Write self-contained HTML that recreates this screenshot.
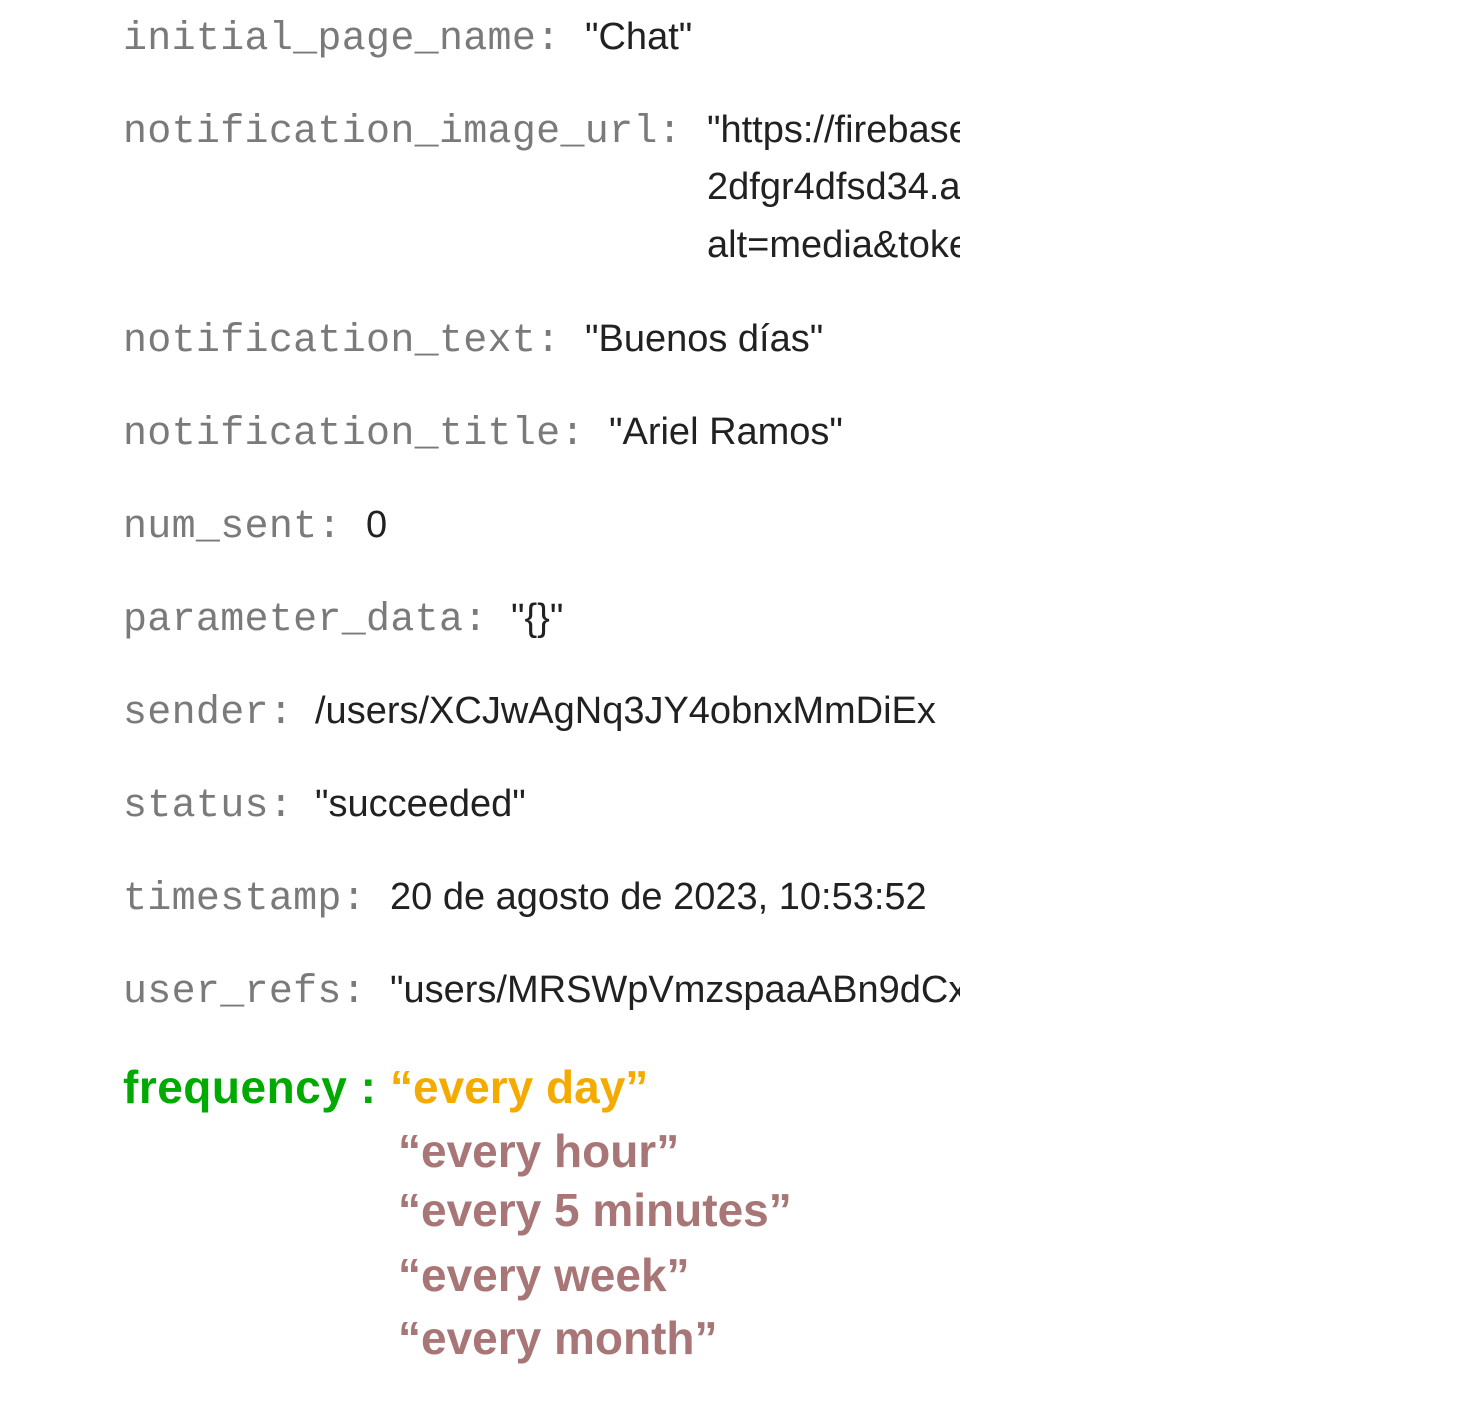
<!DOCTYPE html>
<html><head><meta charset="utf-8"><style>
body{margin:0;width:1464px;height:1416px;background:#fff;position:relative;overflow:hidden}
.r{position:absolute;left:123px;white-space:nowrap;height:60px;line-height:60px}
.k{position:relative;top:3px;font-family:"Liberation Mono",monospace;font-size:40px;color:#7a7a7a;letter-spacing:0.3px}
.v{position:absolute;font-family:"Liberation Sans",sans-serif;font-size:38px;color:#212121;white-space:nowrap;line-height:60px;top:0}
.clip{position:absolute;left:0;top:0;width:960px;height:1040px;overflow:hidden}
.f{position:absolute;font-family:"Liberation Sans",sans-serif;font-weight:bold;font-size:46px;white-space:nowrap;line-height:60px}
</style></head><body>
<div class="clip">
<div class="r" style="top:7px"><span class="k">initial_page_name:</span><span class="v" style="left:462px">"Chat"</span></div>
<div class="r" style="top:100px"><span class="k">notification_image_url:</span><span class="v" style="left:584px">"https://firebasestorage</span></div>
<div class="r" style="top:157px"><span class="v" style="left:584px">2dfgr4dfsd34.appspot</span></div>
<div class="r" style="top:215px"><span class="v" style="left:584px">alt=media&amp;token=abc</span></div>
<div class="r" style="top:309px"><span class="k">notification_text:</span><span class="v" style="left:462px">"Buenos días"</span></div>
<div class="r" style="top:402px"><span class="k">notification_title:</span><span class="v" style="left:486px">"Ariel Ramos"</span></div>
<div class="r" style="top:495px"><span class="k">num_sent:</span><span class="v" style="left:243px">0</span></div>
<div class="r" style="top:588px"><span class="k">parameter_data:</span><span class="v" style="left:388px">"{}"</span></div>
<div class="r" style="top:681px"><span class="k">sender:</span><span class="v" style="left:192px">/users/XCJwAgNq3JY4obnxMmDiEx</span></div>
<div class="r" style="top:774px"><span class="k">status:</span><span class="v" style="left:192px">"succeeded"</span></div>
<div class="r" style="top:867px"><span class="k">timestamp:</span><span class="v" style="left:267px">20 de agosto de 2023, 10:53:52</span></div>
<div class="r" style="top:960px"><span class="k">user_refs:</span><span class="v" style="left:267px">"users/MRSWpVmzspaaABn9dCx</span></div>
</div>
<div class="f" style="left:123px;top:1057px;color:#00aa00;letter-spacing:0.5px">frequency :</div>
<div class="f" style="left:390px;top:1057px;color:#f5aa00">“every day”</div>
<div class="f" style="left:398px;top:1121px;color:#a87676">“every hour”</div>
<div class="f" style="left:398px;top:1180px;color:#a87676">“every 5 minutes”</div>
<div class="f" style="left:398px;top:1245px;color:#a87676">“every week”</div>
<div class="f" style="left:398px;top:1308px;color:#a87676">“every month”</div>
</body></html>
